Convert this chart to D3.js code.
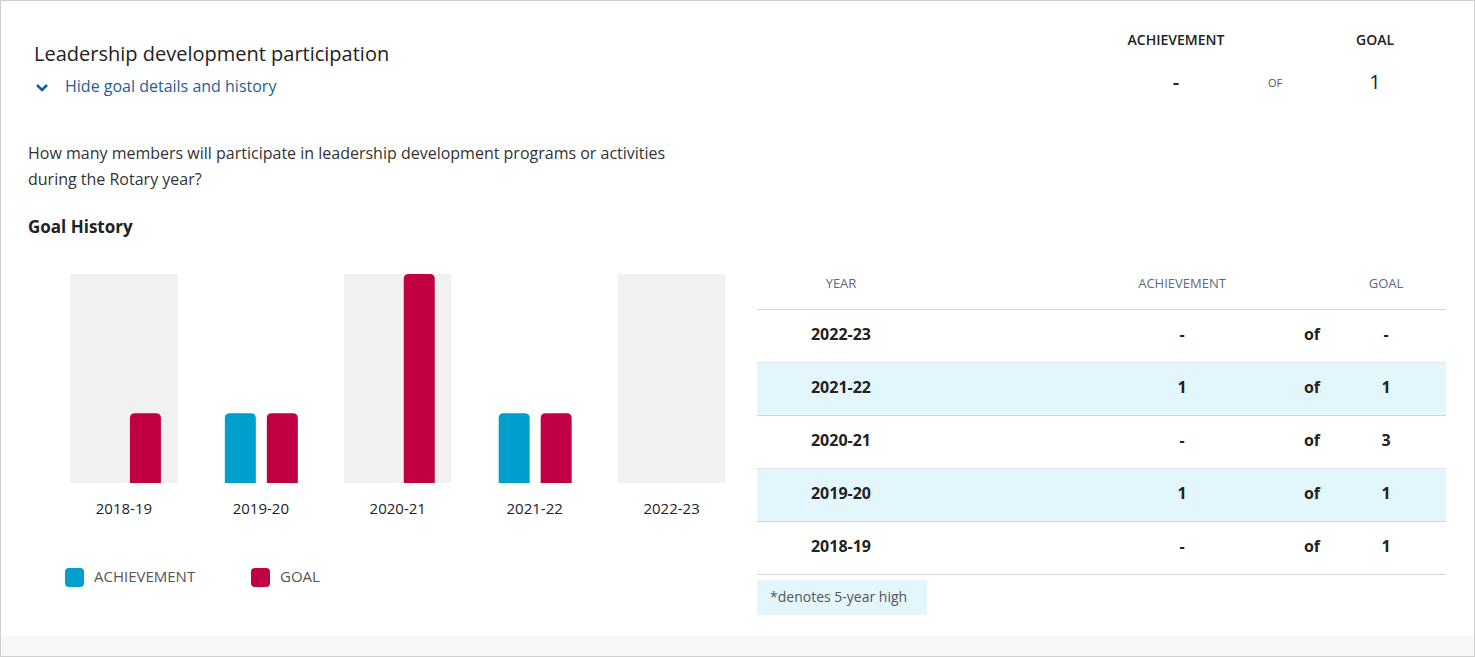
<!DOCTYPE html>
<html><head><meta charset="utf-8">
<script src="https://cdn.jsdelivr.net/npm/d3@7"></script>
<style>body{margin:0;background:#fff;font-family:"Open Sans",sans-serif}</style>
</head><body><div id="output"></div>
<script>
var years = ["2018-19", "2019-20", "2020-21", "2021-22", "2022-23"];
var achievement = [null, 1, null, 1, null];
var goal = [1, 1, 3, 1, null];
var headerAchievement = "-";
var headerGoal = "1";

var svg = d3.select("#output").append("svg").attr("width", 1475).attr("height", 657);
svg.append("rect").attr("x", 0.5).attr("y", 0.5).attr("width", 1474).attr("height", 656)
    .attr("fill", "#fff").attr("stroke", "#cfcfcf");
svg.append("rect").attr("x", 1).attr("y", 636).attr("width", 1473).attr("height", 20).attr("fill", "#f7f7f7");

function txt(x, y, s, o) {
    o = o || {};
    return svg.append("text").attr("x", x).attr("y", y).text(s)
        .attr("font-size", o.size || 16).attr("fill", o.color || "#333")
        .attr("font-weight", o.weight || 400).attr("text-anchor", o.anchor || "start")
        .attr("dominant-baseline", "middle");
}

txt(34, 56, "Leadership development participation", {size: 20, color: "#222"});
svg.append("path").attr("d", "M37,85 L42,90 L47,85").attr("fill", "none")
    .attr("stroke", "#0b5fa5").attr("stroke-width", 2.6);
txt(65, 88, "Hide goal details and history", {color: "#1c5f9c"});
txt(1176, 41, "ACHIEVEMENT", {size: 14, anchor: "middle", color: "#222", weight: 600});
txt(1375, 41, "GOAL", {size: 14, anchor: "middle", color: "#222", weight: 600});
txt(1176, 84, headerAchievement, {size: 20, anchor: "middle", color: "#222", weight: 600});
txt(1275, 84, "OF", {size: 11, anchor: "middle", color: "#555"});
txt(1375, 84, headerGoal, {size: 20, anchor: "middle", color: "#222"});
txt(28, 155, "How many members will participate in leadership development programs or activities", {color: "#333"});
txt(28, 181, "during the Rotary year?", {color: "#333"});
txt(28, 228, "Goal History", {size: 17, weight: 700, color: "#222"});

// chart
var x = d3.scaleBand().domain(years).range([56.5, 739]).paddingInner(0.215).paddingOuter(0.1);
var y = d3.scaleLinear().domain([0, 3]).range([483, 274]);
var g = svg.append("g");
g.selectAll("rect.bg").data(years.filter(function (d, i) { return i % 2 === 0; })).enter()
    .append("rect").attr("x", function (d) { return x(d); }).attr("y", y(3))
    .attr("width", x.bandwidth()).attr("height", y(0) - y(3)).attr("fill", "#f1f1f1");

function topRounded(x0, y0, w, h, r) {
    return "M" + x0 + "," + (y0 + h) + "V" + (y0 + r) + "Q" + x0 + "," + y0 + " " + (x0 + r) + "," + y0 +
        "H" + (x0 + w - r) + "Q" + (x0 + w) + "," + y0 + " " + (x0 + w) + "," + (y0 + r) + "V" + (y0 + h) + "Z";
}
var bw = 31;
function drawBars(vals, off, color) {
    g.selectAll(null).data(years.map(function (d, i) { return {year: d, v: vals[i]}; })
        .filter(function (d) { return d.v; })).enter().append("path")
        .attr("d", function (d) {
            var c = x(d.year) + x.bandwidth() / 2;
            return topRounded(c + off, y(d.v), bw, y(0) - y(d.v), 5);
        }).attr("fill", color);
}
drawBars(achievement, -36, "#009fcc");
drawBars(goal, 6, "#c10043");
g.selectAll("text.xl").data(years).enter().append("text")
    .attr("x", function (d) { return x(d) + x.bandwidth() / 2; }).attr("y", 510)
    .attr("text-anchor", "middle").attr("dominant-baseline", "middle")
    .attr("font-size", 15).attr("fill", "#222").text(function (d) { return d; });

// legend
[["ACHIEVEMENT", "#009fcc", 65], ["GOAL", "#c10043", 251]].forEach(function (l) {
    svg.append("rect").attr("x", l[2]).attr("y", 568).attr("width", 19).attr("height", 19)
        .attr("rx", 4).attr("fill", l[1]);
    txt(l[2] + 29, 578, l[0], {size: 15, color: "#555"});
});

// table
txt(841, 285, "YEAR", {size: 13, anchor: "middle", color: "#5b6b7c"});
txt(1182, 285, "ACHIEVEMENT", {size: 13, anchor: "middle", color: "#5b6b7c"});
txt(1386, 285, "GOAL", {size: 13, anchor: "middle", color: "#5b6b7c"});
var rows = years.map(function (d, i) { return {year: d, a: achievement[i], g: goal[i]}; }).reverse();
var rowY = d3.scaleBand().domain(rows.map(function (r) { return r.year; })).range([309.5, 574.5]);
svg.append("line").attr("x1", 757).attr("x2", 1446).attr("y1", 309.5).attr("y2", 309.5).attr("stroke", "#d6d6d6");
rows.forEach(function (r, i) {
    var y0 = rowY(r.year), h = rowY.bandwidth(), cy = y0 + h / 2;
    if (i % 2 === 1) svg.append("rect").attr("x", 757).attr("y", y0).attr("width", 689).attr("height", h).attr("fill", "#e3f6fc");
    svg.append("line").attr("x1", 757).attr("x2", 1446).attr("y1", y0 + h).attr("y2", y0 + h).attr("stroke", "#d6d6d6");
    txt(841, cy, r.year, {anchor: "middle", weight: 700, color: "#222"});
    txt(1182, cy, r.a ? r.a : "-", {anchor: "middle", weight: 700, color: "#222"});
    txt(1312, cy, "of", {anchor: "middle", weight: 700, color: "#222"});
    txt(1386, cy, r.g ? r.g : "-", {anchor: "middle", weight: 700, color: "#222"});
});
svg.append("rect").attr("x", 757).attr("y", 580).attr("width", 170).attr("height", 35).attr("fill", "#e3f6fc");
txt(770, 598, "*denotes 5-year high", {size: 14, color: "#555"});
</script></body></html>
